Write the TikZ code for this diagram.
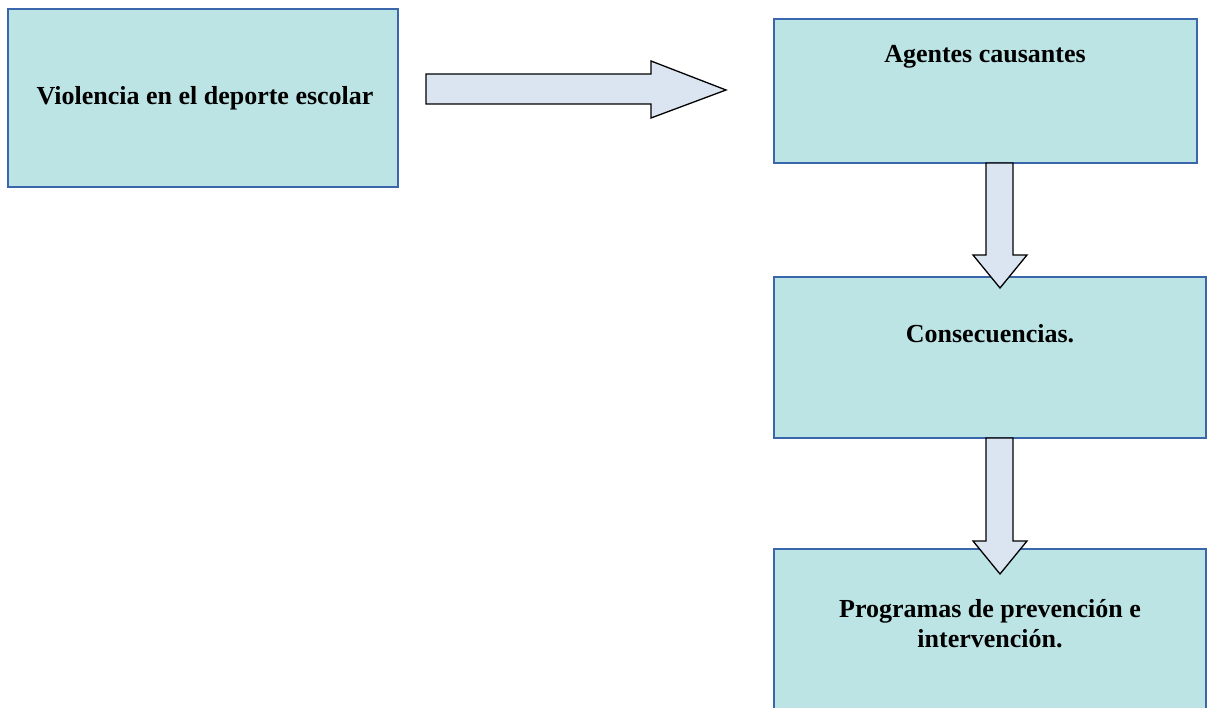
\documentclass[tikz,border=0pt]{standalone}
\usepackage{fontspec}
\setmainfont{Liberation Serif}
\definecolor{boxfill}{RGB}{188,228,229}
\definecolor{boxline}{RGB}{58,102,172}
\definecolor{arrfill}{RGB}{219,229,241}
\begin{document}
\begin{tikzpicture}[x=1pt,y=-1pt,
  box/.style={draw=boxline,line width=2.6pt,fill=boxfill},
  blockarrow/.style={draw=black,line width=1.3pt,fill=arrfill,line join=miter},
  lbl/.style={font=\bfseries\fontsize{26}{30}\selectfont,align=center,inner sep=0pt}]
\useasboundingbox (0,0) rectangle (1208,708);
\clip (0,0) rectangle (1208,708);
% boxes
\draw[box] (8,9) rectangle (398,187);
\draw[box] (774,19) rectangle (1197,163);
\draw[box] (774,277) rectangle (1206,438);
\draw[box] (774,549) rectangle (1206,720);
% block arrows
\draw[blockarrow] (426,74) -- (651,74) -- (651,61) -- (726,90) -- (651,118) -- (651,104) -- (426,104) -- cycle;
\draw[blockarrow] (986,163) -- (1013,163) -- (1013,255) -- (1027,255) -- (1000,288) -- (973,255) -- (986,255) -- cycle;
\draw[blockarrow] (986,438) -- (1013,438) -- (1013,541) -- (1027,541) -- (1000,574) -- (973,541) -- (986,541) -- cycle;
% labels
\node[lbl] (t1) at (205,98) {Violencia en el deporte escolar};
\node[lbl] (t2) at (985,57) {Agentes causantes};
\node[lbl] (t3) at (990,334) {Consecuencias.};
\node[lbl] (t4) at (990,624) {Programas de prevención e\\intervención.};
\end{tikzpicture}
\end{document}
